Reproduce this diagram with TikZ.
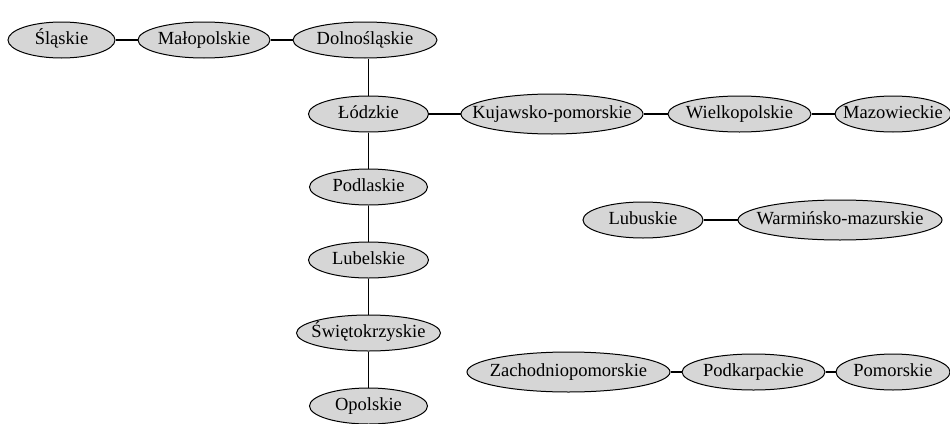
\documentclass[tikz,border=0pt]{standalone}
\usepackage{fontspec}
\setmainfont{Liberation Serif}
\usetikzlibrary{shapes.geometric}
\definecolor{nodefill}{HTML}{D6D6D6}
\tikzset{
  region/.style={ellipse, draw=black, line width=1pt, fill=nodefill, inner sep=0pt,
    minimum height=36pt, text height=12.5pt, text depth=4pt, font=\fontsize{18.5}{20}\selectfont},
  link/.style={line width=1.6pt, black}
}
\newcommand{\lbl}[1]{\makebox[0pt]{#1}}
\begin{document}
\begin{tikzpicture}[x=1pt,y=-1pt]
\useasboundingbox (0,0) rectangle (950,423);
% row 1
\node[region, minimum width=107pt] (sl) at (61.5,40) {\lbl{Śląskie}};
\node[region, minimum width=132pt] (ma) at (204,40) {\lbl{Małopolskie}};
\node[region, minimum width=144pt] (do) at (365,40) {\lbl{Dolnośląskie}};
% column
\node[region, minimum width=120pt] (lo) at (368.5,114) {\lbl{Łódzkie}};
\node[region, minimum width=118pt] (pd) at (368.5,187) {\lbl{Podlaskie}};
\node[region, minimum width=120pt] (lu) at (368.5,260) {\lbl{Lubelskie}};
\node[region, minimum width=144pt] (sw) at (368.5,333) {\lbl{Świętokrzyskie}};
\node[region, minimum width=118pt] (op) at (368.5,406) {\lbl{Opolskie}};
% row 2
\node[region, minimum width=182pt, minimum height=40pt] (kp) at (552,114) {\lbl{Kujawsko-pomorskie}};
\node[region, minimum width=143pt] (wk) at (739.5,114) {\lbl{Wielkopolskie}};
\node[region, minimum width=116pt] (mz) at (893,114) {\lbl{Mazowieckie}};
% Lubuskie row
\node[region, minimum width=120pt] (lb) at (643,220) {\lbl{Lubuskie}};
\node[region, minimum width=204pt, minimum height=40pt] (wm) at (840,220) {\lbl{Warmińsko-mazurskie}};
% bottom row
\node[region, minimum width=203pt, minimum height=40pt] (zp) at (568.5,372) {\lbl{Zachodniopomorskie}};
\node[region, minimum width=143pt] (pk) at (753.5,372) {\lbl{Podkarpackie}};
\node[region, minimum width=114pt] (pm) at (893,372) {\lbl{Pomorskie}};
% connectors
\draw[link] (sl) -- (ma);
\draw[link] (ma) -- (do);
\draw[link] (lo) -- (lo |- do.south);
\draw[link] (lo) -- (pd);
\draw[link] (pd) -- (lu);
\draw[link] (lu) -- (sw);
\draw[link] (sw) -- (op);
\draw[link] (lo) -- (kp);
\draw[link] (kp) -- (wk);
\draw[link] (wk) -- (mz);
\draw[link] (lb) -- (wm);
\draw[link] (zp) -- (pk);
\draw[link] (pk) -- (pm);
\end{tikzpicture}
\end{document}
